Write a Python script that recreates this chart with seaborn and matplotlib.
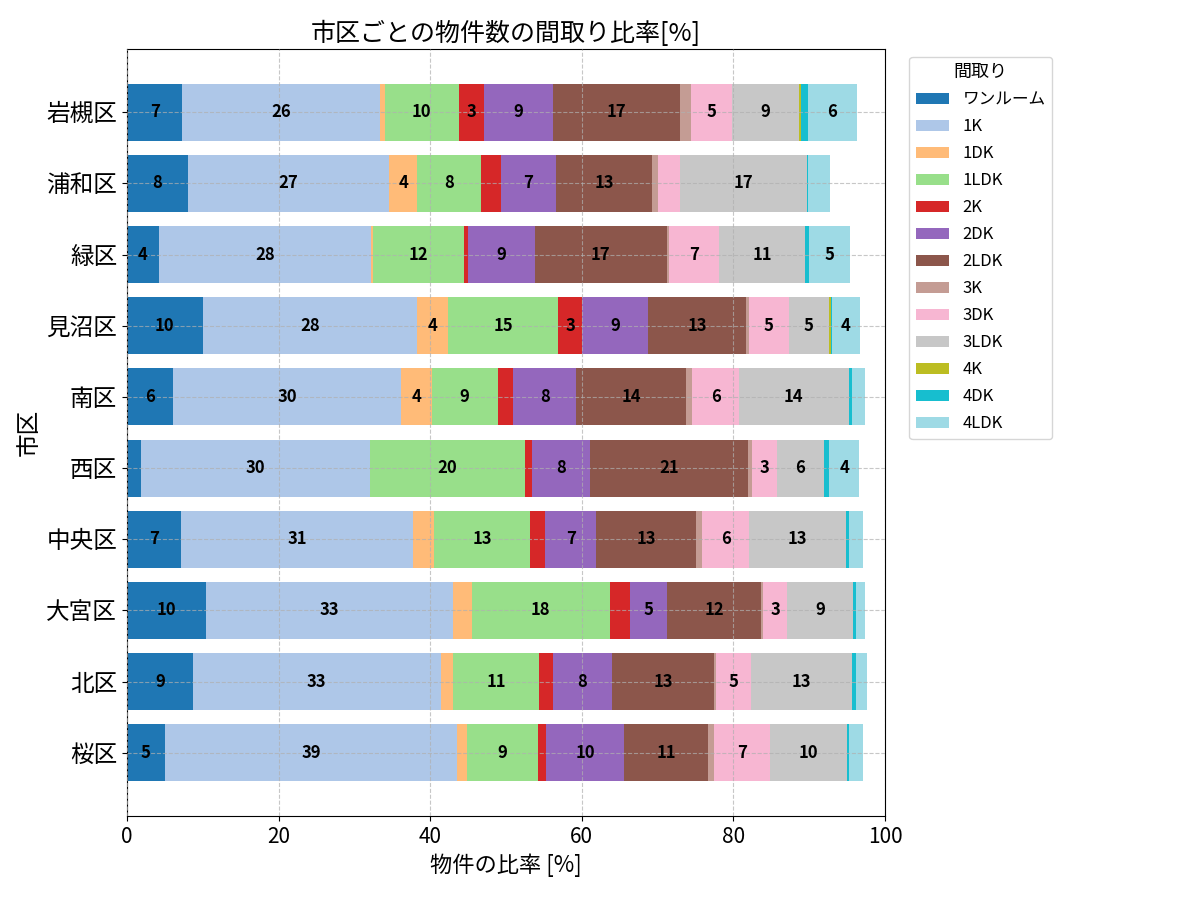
import numpy as np
import pandas as pd
import matplotlib
matplotlib.use("Agg")
import matplotlib.pyplot as plt
import seaborn as sns
from matplotlib.patches import Patch

plt.rcParams['font.family'] = ['Noto Sans CJK JP', 'DejaVu Sans']

# 市区 (上から順に)
wards = ["岩槻区", "浦和区", "緑区", "見沼区", "南区", "西区", "中央区", "大宮区", "北区", "桜区"]
layouts = ["ワンルーム", "1K", "1DK", "1LDK", "2K", "2DK", "2LDK", "3K", "3DK", "3LDK", "4K", "4DK", "4LDK"]

# 各市区の間取り比率 [%] (layouts の順)
iwatsuki = [7.3, 26.1, 0.6, 9.8, 3.3, 9.1, 16.8, 1.4, 5.4, 8.8, 0.3, 0.9, 6.5]
urawa    = [8.0, 26.6, 3.7, 8.4, 2.6, 7.3, 12.7, 0.8, 2.8, 16.8, 0.0, 0.1, 2.9]
midori   = [4.2, 28.0, 0.3, 12.0, 0.5, 8.8, 17.4, 0.3, 6.6, 11.4, 0.0, 0.5, 5.4]
minuma   = [10.0, 28.3, 4.0, 14.6, 3.1, 8.8, 12.9, 0.3, 5.3, 5.3, 0.3, 0.1, 3.7]
minami   = [6.1, 30.1, 4.0, 8.7, 2.0, 8.4, 14.5, 0.8, 6.1, 14.5, 0.0, 0.5, 1.6]
nishi    = [1.8, 30.3, 0.0, 20.4, 0.9, 7.7, 20.8, 0.5, 3.4, 6.1, 0.0, 0.7, 4.0]
chuo     = [7.1, 30.7, 2.7, 12.7, 2.0, 6.7, 13.2, 0.8, 6.2, 12.7, 0.1, 0.4, 1.8]
omiya    = [10.4, 32.6, 2.5, 18.2, 2.6, 5.0, 12.3, 0.3, 3.2, 8.7, 0.0, 0.4, 1.2]
kita     = [8.7, 32.7, 1.6, 11.4, 1.8, 7.8, 13.4, 0.3, 4.6, 13.4, 0.0, 0.5, 1.4]
sakura   = [5.0, 38.6, 1.2, 9.4, 1.1, 10.3, 11.1, 0.8, 7.3, 10.2, 0.0, 0.3, 1.8]

dati = pd.DataFrame([iwatsuki, urawa, midori, minuma, minami, nishi, chuo, omiya, kita, sakura],
                    index=wards, columns=layouts)
cumul = dati.cumsum(axis=1)

# tab20 campionata come fa pandas (colormap="tab20")
colori = sns.color_palette(list(plt.get_cmap("tab20")(np.linspace(0, 1, len(layouts)))))

fig = plt.figure(figsize=(12, 9), dpi=100)
ax = fig.add_axes([0.1058, 0.0933, 0.6317, 0.8523])

# barre cumulative, dalla più lunga alla più corta
for i in range(len(layouts) - 1, -1, -1):
    col = layouts[i]
    sns.barplot(x=cumul[col].values, y=wards, orient="h", color=colori[i],
                saturation=1, errorbar=None, width=0.8, ax=ax)

# etichette
for r, w in enumerate(wards):
    for c, col in enumerate(layouts):
        v = dati.loc[w, col]
        if v >= 3:
            ax.text(cumul.loc[w, col] - v / 2, r, f"{v:.0f}", ha="center", va="center",
                    fontsize=12, fontweight="bold", color="black")

ax.set_xlim(0, 100)
ax.set_ylim(len(wards) - 1 + 0.89, -0.89)
ax.grid(True, linestyle="--", alpha=0.7)
ax.set_axisbelow(False)
for s in ax.spines.values():
    s.set_visible(True)
    s.set_color("black")

ax.tick_params(axis="x", labelsize=15)
ax.tick_params(axis="y", labelsize=17)
ax.set_xlabel("物件の比率 [%]", fontsize=16)
ax.set_ylabel("市区", fontsize=17)
ax.set_title("市区ごとの物件数の間取り比率[%]", fontsize=18)

handles = [Patch(facecolor=colori[i], label=layouts[i]) for i in range(len(layouts))]
ax.legend(handles=handles, title="間取り", loc="upper left", bbox_to_anchor=(1.032, 0.99),
          borderaxespad=0, fontsize=12, title_fontsize=13, labelspacing=0.6)

plt.savefig("out.png", dpi=100)
